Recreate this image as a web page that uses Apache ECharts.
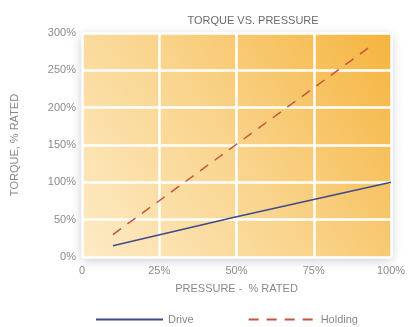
<!DOCTYPE html>
<html>
<head>
<meta charset="utf-8">
<script src="https://cdn.jsdelivr.net/npm/echarts@6/dist/echarts.min.js"></script>
<style>
  body { margin: 0; background: #fff; }
</style>
</head>
<body>
<div id="torque-chart" style="width: 409px; height: 327px"></div>
<script>
// values (pressure %, torque %)
const driveData = [[10, 15], [50, 54], [100, 100]];
const holdingData = [[10, 30], [50, 151], [93, 281]];
const xTicks = [0, 25, 50, 75, 100];
const yTicks = [0, 50, 100, 150, 200, 250, 300];

const font = "'Liberation Sans', sans-serif";

const chart = echarts.init(document.getElementById("torque-chart"));

chart.setOption({
  animation: false,
  title: {
    text: "TORQUE VS. PRESSURE",
    left: 248,
    top: 10,
    textAlign: "center",
    textStyle: { color: "#6a6a6a", fontSize: 11, fontWeight: "normal", fontFamily: font },
  },
  grid: {
    left: 82,
    right: 18,
    top: 33,
    bottom: 70,
    show: true,
    borderWidth: 0,
    backgroundColor: new echarts.graphic.LinearGradient(0, 1, 1, 0, [
      { offset: 0, color: "#fdebc6" },
      { offset: 0.5, color: "#f9d38a" },
      { offset: 1, color: "#f5b43e" },
    ]),
    shadowBlur: 10,
    shadowColor: "rgba(90, 90, 140, 0.35)",
    shadowOffsetY: 3,
  },
  legend: {
    left: 90,
    top: 309,
    itemWidth: 67,
    itemHeight: 6,
    itemGap: 54,
    itemStyle: { opacity: 0 },
    textStyle: { color: "#888", fontSize: 11, fontFamily: font },
    data: ["Drive", "Holding"],
  },
  xAxis: {
    type: "value",
    min: 0,
    max: 100,
    interval: 25,
    name: "PRESSURE -  % RATED",
    nameLocation: "middle",
    nameGap: 26,
    nameTextStyle: { color: "#888", fontSize: 11, fontFamily: font },
    axisLine: { show: false },
    axisTick: { show: false },
    axisLabel: {
      color: "#8a8a8a",
      fontSize: 11,
      fontFamily: font,
      margin: 8,
      formatter: (v) => (v === 0 ? "0" : v + "%"),
    },
    splitLine: { lineStyle: { color: "#fff", width: 2.5 } },
  },
  yAxis: {
    type: "value",
    min: 0,
    max: 300,
    interval: 50,
    name: "TORQUE, % RATED",
    nameLocation: "middle",
    nameGap: 62,
    nameTextStyle: { color: "#888", fontSize: 11, fontFamily: font },
    axisLine: { show: false },
    axisTick: { show: false },
    axisLabel: {
      color: "#8a8a8a",
      fontSize: 11,
      fontFamily: font,
      margin: 6,
      formatter: "{value}%",
    },
    splitLine: { lineStyle: { color: "#fff", width: 2.5 } },
  },
  series: [
    {
      name: "Drive",
      type: "line",
      data: driveData,
      symbol: "none",
      color: "#3d4a8c",
      lineStyle: { width: 1.5, color: "#3d4a8c" },
    },
    {
      name: "Holding",
      type: "line",
      data: holdingData,
      symbol: "none",
      color: "#c4553c",
      lineStyle: { width: 1.5, color: "#c4553c", type: [10, 8] },
    },
  ],
});
</script>
</body>
</html>
